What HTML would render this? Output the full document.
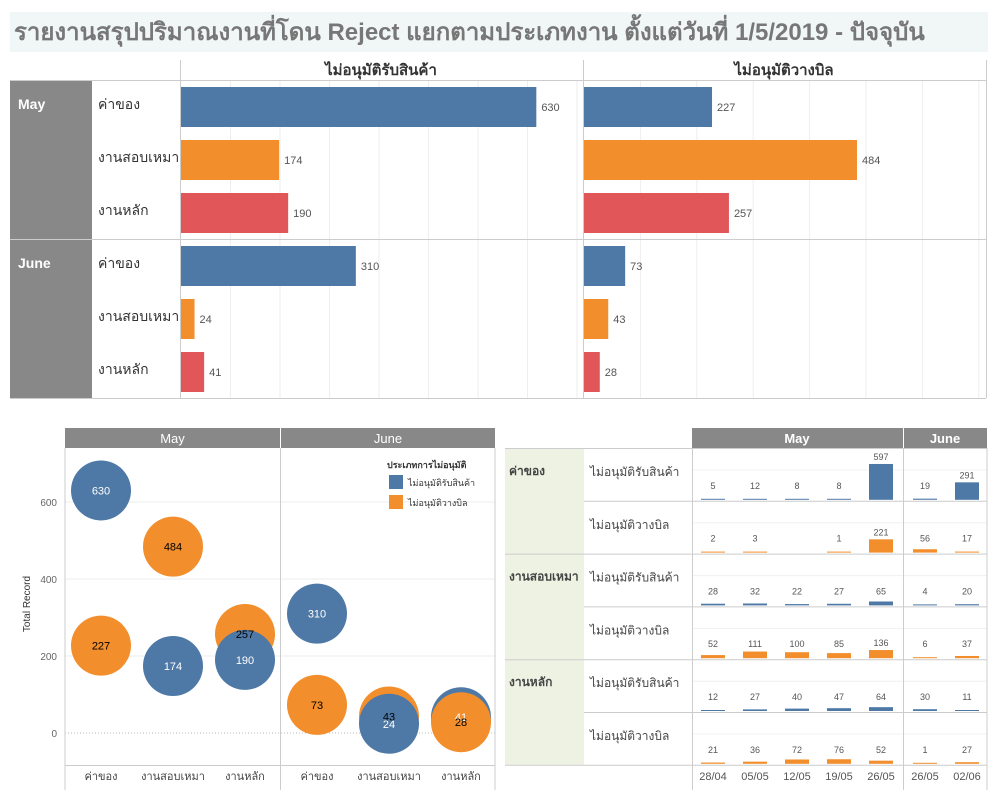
<!DOCTYPE html>
<html><head><meta charset="utf-8">
<style>
body{margin:0;background:#fff;width:1000px;height:800px;overflow:hidden;font-family:"Liberation Sans","DejaVu Sans",sans-serif;}
svg text{font-family:"Liberation Sans","DejaVu Sans",sans-serif;}
</style></head><body>
<svg id="s" width="1000" height="800" xmlns="http://www.w3.org/2000/svg">
<rect x="10" y="12" width="978" height="40" fill="#f1f7f7"/>
<text x="14" y="40" font-size="24" font-weight="bold" fill="#777">รายงานสรุปปริมาณงานที่โดน Reject แยกตามประเภทงาน ตั้งแต่วันที่ 1/5/2019 - ปัจจุบัน</text>
<g id="topchart"></g>
<g id="bub"></g>
<g id="tbl"></g>
</svg>
<script>
const months = ["May","June"];
const cats = ["ค่าของ","งานสอบเหมา","งานหลัก"];
const types = ["ไม่อนุมัติรับสินค้า","ไม่อนุมัติวางบิล"];
const rejGoods = [[630,174,190],[310,24,41]];
const rejBill = [[227,484,257],[73,43,28]];
const dates = [["28/04","05/05","12/05","19/05","26/05"],["26/05","02/06"]];
const wk = [
 [[5,12,8,8,597],[19,291]],
 [[2,3,null,1,221],[56,17]],
 [[28,32,22,27,65],[4,20]],
 [[52,111,100,85,136],[6,37]],
 [[12,27,40,47,64],[30,11]],
 [[21,36,72,76,52],[1,27]]
];
const yTicks = [0,200,400,600];

const NS="http://www.w3.org/2000/svg";
const BLUE="#4e79a7",ORANGE="#f28e2b",RED="#e15759",GRAY="#888";
function el(p,tag,a,txt){const e=document.createElementNS(NS,tag);for(const k in a)e.setAttribute(k,a[k]);if(txt!==undefined)e.textContent=txt;p.appendChild(e);return e;}

// ---- top bar chart ----
const topG=document.getElementById('topchart');
const sx=v=>v*0.564;
const panels=[{x:181,data:rejGoods,title:types[0],step:49.5},{x:584,data:rejBill,title:types[1],step:56.4}];
const catColors=[BLUE,ORANGE,RED];
panels.forEach((p,pi)=>{
  for(let g=p.x+p.step;g<p.x+400;g+=p.step){let l=el(topG,'line',{x1:g,x2:g,y1:80,y2:398,stroke:'#eee'});}
  let t=el(topG,'text',{x:p.x+200,y:75,'font-size':15,'font-weight':'bold','text-anchor':'middle',fill:'#333'},p.title);
  
  let ln=el(topG,'line',{x1:p.x-0.5,x2:p.x-0.5,y1:60,y2:398,stroke:'#ccc'});
  
  months.forEach((m,mi)=>{
    cats.forEach((c,ci)=>{
      const v=p.data[mi][ci];const y=87+mi*159+ci*53;
      let b=el(topG,'rect',{x:p.x,y:y,width:sx(v),height:40,fill:catColors[ci]});
      
      let lt=el(topG,'text',{x:p.x+sx(v)+5,y:y+24,'font-size':11,fill:'#555'},v);
      
    });
  });
});
let rb=el(topG,'line',{x1:986.5,x2:986.5,y1:60,y2:398,stroke:'#ccc'});
months.forEach((m,mi)=>{
  const y0=80+mi*159;
  let r=el(topG,'rect',{x:10,y:y0,width:82,height:159,fill:GRAY});
  let t=el(topG,'text',{x:18,y:y0+29,'font-size':14,'font-weight':'bold',fill:'#fff'},m);
  cats.forEach((c,ci)=>{let ct=el(topG,'text',{x:98,y:y0+29+ci*53,'font-size':14,fill:'#333'},c);});
  let hl=el(topG,'line',{x1:10,x2:986,y1:y0+0.5,y2:y0+0.5,stroke:'#ccc'});
});
let bl=el(topG,'line',{x1:10,x2:986,y1:398.5,y2:398.5,stroke:'#ccc'});

// ---- bubble chart ----
const bub=document.getElementById('bub');
const by=v=>733-v*0.385;
const bpan=[{x:65,w:215},{x:281,w:214}];
bpan.forEach((p,mi)=>{
  let h=el(bub,'rect',{x:p.x,y:428,width:p.w,height:20,fill:GRAY});
  let ht=el(bub,'text',{x:p.x+p.w/2,y:443,'font-size':13,'text-anchor':'middle',fill:'#fff'},months[mi]);
});
yTicks.forEach(v=>{
  let g=el(bub,'line',{x1:65,x2:495,y1:by(v),y2:by(v),stroke:v===0?'#bbb':'#eee','stroke-dasharray':v===0?'1,2':'none'});
  let t=el(bub,'text',{x:57,y:by(v)+4,'font-size':10,'text-anchor':'end',fill:'#666'},v);
});
let yt=el(bub,'text',{x:30,y:604,'font-size':10,'text-anchor':'middle',fill:'#333',transform:'rotate(-90 30 604)'},'Total Record');
[[65,448,65,790],[280.5,448,280.5,790],[495,448,495,790],[65,765.5,495,765.5]].forEach(a=>{let l=el(bub,'line',{x1:a[0],y1:a[1],x2:a[2],y2:a[3],stroke:'#ccc'});});
months.forEach((m,mi)=>{
  cats.forEach((c,ci)=>{
    const cx=bpan[mi].x+36+ci*72;
    let t=el(bub,'text',{x:cx,y:780,'font-size':11,'text-anchor':'middle',fill:'#444'},c);
    const pts=[[rejBill[mi][ci],ORANGE,'#000'],[rejGoods[mi][ci],BLUE,'#fff']];
    if(mi===1&&ci===2)pts.reverse();
    pts.forEach(p=>{let c2=el(bub,'circle',{cx:cx,cy:by(p[0]),r:30,fill:p[1]});});
    pts.forEach(p=>{let lt=el(bub,'text',{x:cx,y:by(p[0])+4,'font-size':11,'text-anchor':'middle',fill:p[2]},p[0]);});
  });
});
let lg=el(bub,'text',{x:387,y:468,'font-size':9,'font-weight':'bold',fill:'#333'},'ประเภทการไม่อนุมัติ');
[[BLUE,types[0]],[ORANGE,types[1]]].forEach((l,i)=>{
  let r=el(bub,'rect',{x:389,y:475+i*20,width:14,height:14,fill:l[0]});
  let t=el(bub,'text',{x:408,y:486+i*20,'font-size':9,fill:'#333'},l[1]);
});

// ---- weekly table ----
const tbl=document.getElementById('tbl');
const colX=[[692,734,776,818,860],[904,946]];
let hm=el(tbl,'rect',{x:692,y:428,width:211,height:20,fill:GRAY});
let hj=el(tbl,'rect',{x:904,y:428,width:83,height:20,fill:GRAY});
let t1=el(tbl,'text',{x:797,y:443,'font-size':13,'font-weight':'bold','text-anchor':'middle',fill:'#fff'},months[0]);
let t2=el(tbl,'text',{x:945,y:443,'font-size':13,'font-weight':'bold','text-anchor':'middle',fill:'#fff'},months[1]);
cats.forEach((c,ci)=>{
  const y0=448+ci*105.6;
  let r=el(tbl,'rect',{x:505,y:y0,width:79,height:105.6,fill:'#eef2e3'});
  let t=el(tbl,'text',{x:509,y:y0+27,'font-size':12,'font-weight':'bold',fill:'#444'},c);
});
wk.forEach((row,ri)=>{
  const y0=448+ri*52.8, yb=y0+52.8;
  let t=el(tbl,'text',{x:590,y:y0+28,'font-size':12,fill:'#444'},types[ri%2]);
  let g=el(tbl,'line',{x1:692,x2:987,y1:y0+22,y2:y0+22,stroke:'#f0f0f0'});
  row.forEach((vals,mi)=>vals.forEach((v,di)=>{
    if(v===null)return;
    const x=colX[mi][di]+9, h=Math.max(1,v*0.06);
    let b=el(tbl,'rect',{x:x,y:yb-1-h,width:24,height:h,fill:ri%2?ORANGE:BLUE});
    let lt=el(tbl,'text',{x:x+12,y:Math.min(yb-1-h-4,yb-12),'font-size':9,'text-anchor':'middle',fill:'#555'},v);
  }));
  let d=el(tbl,'line',{x1:ri%2?505:584,x2:987,y1:yb+0.5,y2:yb+0.5,stroke:'#ccc'});
});
let tl=el(tbl,'line',{x1:505,x2:987,y1:448.5,y2:448.5,stroke:'#ccc'});
[692.5,903.5,987].forEach(x=>{let l=el(tbl,'line',{x1:x,x2:x,y1:448,y2:790,stroke:'#ccc'});});
dates.forEach((ds,mi)=>ds.forEach((d,di)=>{
  let t=el(tbl,'text',{x:colX[mi][di]+21,y:780,'font-size':11,'text-anchor':'middle',fill:'#555'},d);
}));
</script>
</body></html>
